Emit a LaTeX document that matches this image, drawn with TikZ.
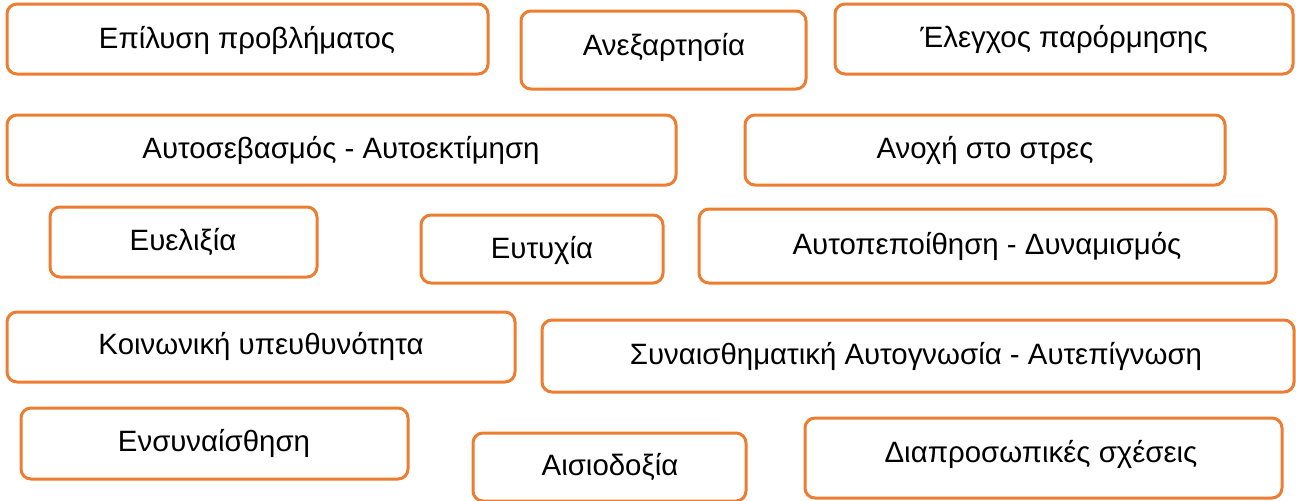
\documentclass[tikz,border=0pt]{standalone}
\usepackage{fontspec}
\setmainfont{Liberation Sans}
\definecolor{boxorange}{HTML}{ED7D31}
\tikzset{
  box/.style={draw=boxorange, line width=1.5pt, rounded corners=5pt, fill=white},
  lbl/.style={anchor=base, inner sep=0pt, font=\fontsize{14.7pt}{17pt}\selectfont, text=black}
}
\newcommand\mybox[8]{%
  \draw[box] (#2,#3) rectangle (#4,#5);
  \node[lbl] (#1) at (#6,#7) {#8};
}
\begin{document}
\begin{tikzpicture}[x=0.5pt,y=-0.5pt]
\useasboundingbox[fill=white] (0,0) rectangle (1296,500);
\mybox{t1}{7}{4}{488}{74}{247}{48}{Επίλυση προβλήματος}
\mybox{t2}{521}{11}{806}{89}{664}{55}{Ανεξαρτησία}
\mybox{t3}{835}{4}{1293}{74}{1064}{47}{Έλεγχος παρόρμησης}
\mybox{t4}{7}{115}{676}{185}{341}{158}{Αυτοσεβασμός - Αυτοεκτίμηση}
\mybox{t5}{745}{115}{1225}{185}{985}{158}{Ανοχή στο στρες}
\mybox{t6}{50}{207}{317}{277}{183}{250}{Ευελιξία}
\mybox{t7}{421}{215}{663}{283}{542}{258}{Ευτυχία}
\mybox{t8}{699}{209}{1276}{283}{987}{254}{Αυτοπεποίθηση - Δυναμισμός}
\mybox{t9}{7}{312}{515}{382}{261}{354}{Κοινωνική υπευθυνότητα}
\mybox{t10}{542}{320}{1294}{392}{916}{364}{Συναισθηματική Αυτογνωσία - Αυτεπίγνωση}
\mybox{t11}{21}{408}{408}{479}{214}{451}{Ενσυναίσθηση}
\mybox{t12}{473}{433}{746}{501}{610}{475}{Αισιοδοξία}
\mybox{t13}{805}{418}{1282}{498}{1041}{462}{Διαπροσωπικές σχέσεις}
\end{tikzpicture}
\end{document}
